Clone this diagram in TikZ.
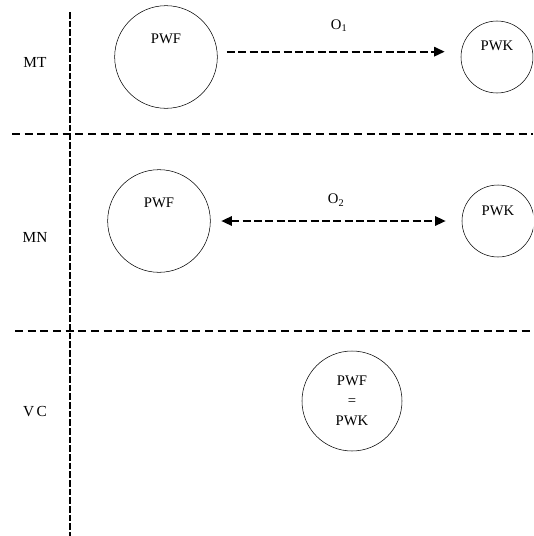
\documentclass[tikz,border=0pt]{standalone}
\usepackage{fontspec}
\setmainfont{Liberation Serif}
\usetikzlibrary{arrows.meta,positioning}

\begin{document}
\begin{tikzpicture}[
  x=0.75pt, y=-0.75pt,
  font=\fontsize{11}{15}\selectfont,
  blob/.style={draw, circle, minimum size=77pt, inner sep=0pt, align=center},
  smallblob/.style={draw, circle, minimum size=54pt, inner sep=0pt},
  row/.style={font=\fontsize{11.5}{14}\selectfont},
  sep/.style={dash pattern=on 6pt off 3.5pt, line width=0.8pt},
  axis/.style={dash pattern=on 5pt off 1.5pt, line width=1.6pt},
  arr/.style={-{Triangle[length=8pt, width=7pt]}, dash pattern=on 6pt off 2.5pt, line width=1.6pt},
  dbl/.style={{Triangle[length=8pt, width=7pt]}-{Triangle[length=8pt, width=7pt]}, dash pattern=on 6pt off 2.5pt, line width=1.6pt}
]
  \clip (0,0) rectangle (533,536);

  % separators
  \coordinate (top) at (70,12);
  \coordinate (bottom) at (70,536);
  \draw[axis] (top) -- (bottom);
  \draw[sep] (12,134) -- (533,134);
  \draw[sep] (15,331) -- (533,331);

  % row names
  \node[row] (mt) at (35,62) {MT};
  \node[row] (mn) at (35,237) {MN};
  \node[row] (vc) at (35,412) {V\,C};

  % MT
  \node[blob, label={[yshift=13.5pt]center:PWF}] (mtf) at (166,57) {};
  \node[smallblob, label={[yshift=8.5pt]center:PWK}] (mtk) at (497,57) {};
  \draw[arr, shorten <=7pt, shorten >=12pt] ([yshift=4pt]mtf.east) -- node[above=11pt] (o1) {O\textsubscript{1}} ([yshift=4pt]mtk.west);

  % MN
  \node[blob, label={[yshift=13.5pt]center:PWF}] (mnf) at (159,221) {};
  \node[smallblob, label={[yshift=8pt]center:PWK}] (mnk) at (498,221) {};
  \draw[dbl, shorten <=8pt, shorten >=12pt] (mnf.east) -- node[above=7pt] (o2) {O\textsubscript{2}} (mnk.west);

  % VC
  \node[blob, minimum size=75pt] (vcf) at (352,401) {PWF\\=\\PWK};
\end{tikzpicture}
\end{document}
